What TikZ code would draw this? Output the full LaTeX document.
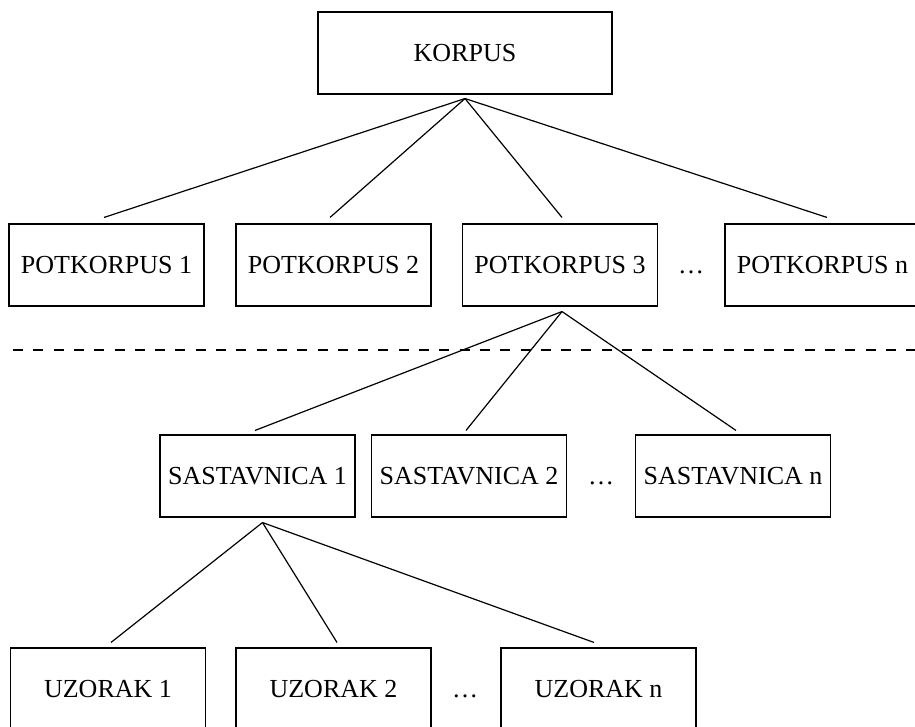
\documentclass[tikz,border=0pt]{standalone}
\usepackage{fontspec}
\setmainfont{Liberation Serif}
\begin{document}
\begin{tikzpicture}[x=1pt,y=-1pt,
  box/.style={draw, line width=1.1pt, rectangle, minimum width=195pt, minimum height=82pt, inner sep=0pt, font=\fontsize{26}{30}\selectfont},
  dots/.style={font=\fontsize{26}{30}\selectfont, inner sep=0pt, anchor=base},
  link/.style={line width=1.2pt},
  sep/.style={line width=1.4pt, dash pattern=on 10pt off 10.3pt}]
\useasboundingbox (0,0) rectangle (915,727);
\clip (0,0) rectangle (915,727);
% top
\node[box, minimum width=294pt] (korpus) at (465,53) {KORPUS};
% level 2
\node[box] (p1) at (106.5,265) {POTKORPUS 1};
\node[box] (p2) at (333.5,265) {POTKORPUS 2};
\node[box] (p3) at (560,265) {POTKORPUS 3};
\coordinate (pdx) at (691,0);
\node[dots] (pd) at (p3.base -| pdx) {…};
\node[box] (pn) at (822.5,265) {POTKORPUS n};
% separator
\coordinate (sl) at (13,350);
\coordinate (sr) at (915,350);
\draw[sep] (sl) -- (sr);
% level 3
\node[box] (s1) at (257.5,476) {SASTAVNICA 1};
\node[box] (s2) at (469,476) {SASTAVNICA 2};
\coordinate (sdx) at (601,0);
\node[dots] (sd) at (s2.base -| sdx) {…};
\node[box] (sn) at (733,476) {SASTAVNICA n};
% level 4
\node[box] (u1) at (108,689) {UZORAK 1};
\node[box] (u2) at (333.5,689) {UZORAK 2};
\coordinate (udx) at (465,0);
\node[dots] (ud) at (u2.base -| udx) {…};
\node[box] (un) at (598.5,689) {UZORAK n};
% connectors
\coordinate (ka) at ([yshift=-4pt]korpus.south);
\draw[link] (ka) -- ([shift={(-2.5pt,6pt)}]p1.north);
\draw[link] (ka) -- ([shift={(-3.5pt,6pt)}]p2.north);
\draw[link] (ka) -- ([shift={(2pt,6pt)}]p3.north);
\draw[link] (ka) -- ([shift={(4.5pt,6pt)}]pn.north);
\coordinate (pa) at ([shift={(2pt,-5pt)}]p3.south);
\draw[link] (pa) -- ([shift={(-2.5pt,4pt)}]s1.north);
\draw[link] (pa) -- ([shift={(-3pt,4pt)}]s2.north);
\draw[link] (pa) -- ([shift={(3pt,4pt)}]sn.north);
\coordinate (sa) at ([shift={(5pt,-5pt)}]s1.south);
\draw[link] (sa) -- ([shift={(3pt,5pt)}]u1.north);
\draw[link] (sa) -- ([shift={(3.5pt,5pt)}]u2.north);
\draw[link] (sa) -- ([shift={(-4.5pt,5pt)}]un.north);
\end{tikzpicture}
\end{document}
